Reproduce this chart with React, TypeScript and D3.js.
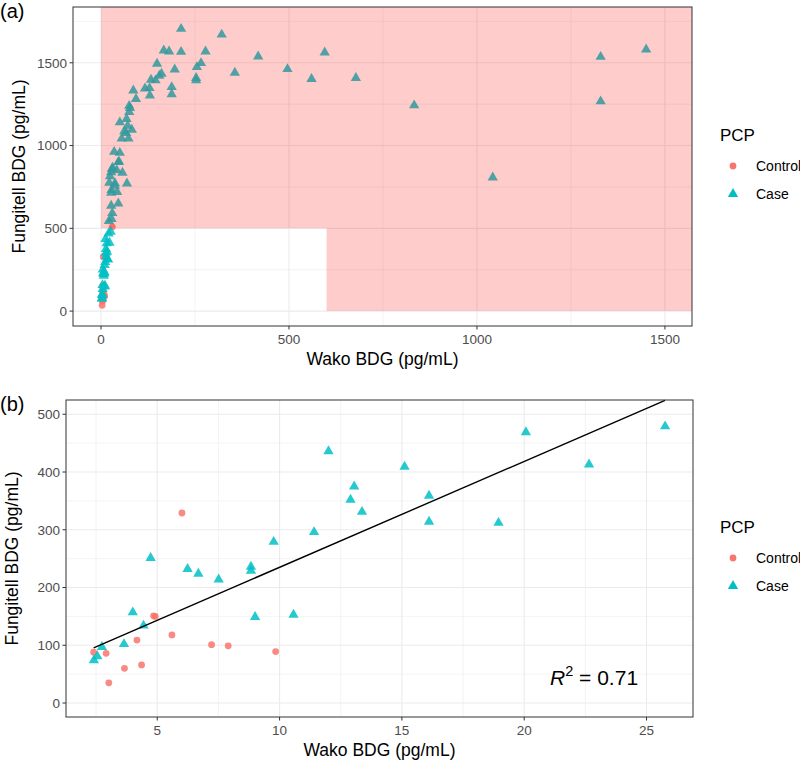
import React from "react";
import * as d3 from "d3";

// panel (b): Wako < ~26, Fungitell < 500
const ctrlWakoB = [2.40, 2.91, 3.02, 3.66, 4.17, 4.36, 4.85, 4.92, 5.60, 6.01, 7.22, 7.90, 9.84];
const ctrlFungB = [88, 86, 35, 60, 109, 66, 151, 150, 118, 329, 101, 99, 89];
const caseWakoB = [2.41, 2.55, 2.74, 3.64, 4.00, 4.44, 4.73, 6.24, 6.68, 7.51, 8.83, 8.83, 9.00, 9.76, 10.57, 11.41, 12.00, 12.90, 13.05, 13.37, 15.11, 16.11, 16.11, 18.95, 20.07, 22.65, 25.76];
const caseFungB = [74, 81, 97, 102, 157, 134, 251, 232, 224, 214, 236, 229, 149, 279, 153, 296, 436, 352, 375, 331, 409, 359, 314, 312, 469, 413, 479];

// extra points only visible in panel (a)
const ctrlWakoHi = [30];
const ctrlFungHi = [508];
const caseWakoHi = [21, 28, 30, 27, 46, 27, 43, 28, 37, 22, 37, 69, 24, 57, 27, 42, 29, 31, 46, 48, 35, 50, 55, 73, 62, 82, 67, 71, 50, 68, 75, 77, 75, 93, 86, 117, 129, 130, 133, 145, 155, 161, 149, 188, 188, 196, 167, 181, 213, 213, 253, 253, 255, 266, 278, 321, 356, 418, 496, 560, 595, 678, 833, 1042, 1329, 1329, 1450];
const caseFungHi = [544, 556, 592, 636, 650, 715, 720, 732, 757, 775, 772, 771, 815, 836, 838, 851, 858, 866, 900, 902, 962, 956, 1042, 1042, 1086, 1096, 1076, 1120, 1140, 1160, 1202, 1227, 1240, 1281, 1333, 1345, 1347, 1302, 1398, 1394, 1422, 1434, 1494, 1353, 1310, 1460, 1574, 1568, 1566, 1705, 1394, 1408, 1474, 1498, 1568, 1670, 1440, 1538, 1462, 1402, 1562, 1408, 1243, 807, 1536, 1267, 1580];

const groups = ["Control", "Case"];
const fitIntercept = 51.6;
const fitSlope = 18.34;
const r2Label = "0.71";

const ticksA = [0, 500, 1000, 1500];
const ticksBx = [5, 10, 15, 20, 25];
const ticksBy = [0, 100, 200, 300, 400, 500];

const FONT = "'Liberation Sans', Arial, sans-serif";
const colors = { Control: "#F8766D", Case: "#00BFC4" };

const zip = (xs, ys, g) => xs.map((x, i) => ({ x, y: ys[i], g }));

const drawPanel = (svg, opts) => {
  const { x, y, left, top, right, bottom, xMajor, xMinor, yMajor, yMinor, tag, legendY } = opts;
  const g = svg.append("g");
  g.append("rect").attr("x", left).attr("y", top).attr("width", right - left).attr("height", bottom - top).attr("fill", "white");
  xMinor.forEach(v => g.append("line").attr("x1", x(v)).attr("x2", x(v)).attr("y1", top).attr("y2", bottom).attr("stroke", "#EBEBEB").attr("stroke-width", 0.6));
  yMinor.forEach(v => g.append("line").attr("y1", y(v)).attr("y2", y(v)).attr("x1", left).attr("x2", right).attr("stroke", "#EBEBEB").attr("stroke-width", 0.6));
  xMajor.forEach(v => g.append("line").attr("x1", x(v)).attr("x2", x(v)).attr("y1", top).attr("y2", bottom).attr("stroke", "#EBEBEB").attr("stroke-width", 1.1));
  yMajor.forEach(v => g.append("line").attr("y1", y(v)).attr("y2", y(v)).attr("x1", left).attr("x2", right).attr("stroke", "#EBEBEB").attr("stroke-width", 1.1));

  // ticks + labels
  xMajor.forEach(v => {
    g.append("line").attr("x1", x(v)).attr("x2", x(v)).attr("y1", bottom).attr("y2", bottom + 3.5).attr("stroke", "#333");
    g.append("text").attr("x", x(v)).attr("y", bottom + 18).attr("text-anchor", "middle")
      .attr("font-size", 13.5).attr("fill", "#4D4D4D").attr("font-family", FONT).text(v);
  });
  yMajor.forEach(v => {
    g.append("line").attr("x1", left - 3.5).attr("x2", left).attr("y1", y(v)).attr("y2", y(v)).attr("stroke", "#333");
    g.append("text").attr("x", left - 6).attr("y", y(v) + 4.8).attr("text-anchor", "end")
      .attr("font-size", 13.5).attr("fill", "#4D4D4D").attr("font-family", FONT).text(v);
  });

  g.append("text").attr("x", (left + right) / 2).attr("y", bottom + 39).attr("text-anchor", "middle")
    .attr("font-size", 17.5).attr("font-family", FONT).text("Wako BDG (pg/mL)");
  g.append("text").attr("transform", `translate(${left - 48},${(top + bottom) / 2}) rotate(-90)`)
    .attr("text-anchor", "middle").attr("font-size", 17.5).attr("font-family", FONT).text("Fungitell BDG (pg/mL)");
  g.append("text").attr("x", 0).attr("y", top + 11).attr("font-size", 20).attr("font-family", FONT).text(tag);

  // legend
  const lg = g.append("g").attr("font-family", FONT);
  lg.append("text").attr("x", 720).attr("y", legendY - 25).attr("font-size", 17).text("PCP");
  lg.append("circle").attr("cx", 733).attr("cy", legendY).attr("r", 3.4).attr("fill", colors.Control);
  lg.append("path").attr("d", d3.symbol(d3.symbolTriangle, 46)()).attr("transform", `translate(733,${legendY + 28})`).attr("fill", colors.Case);
  lg.append("text").attr("x", 756).attr("y", legendY + 5).attr("font-size", 14).text("Control");
  lg.append("text").attr("x", 756).attr("y", legendY + 33).attr("font-size", 14).text("Case");
  return g;
};

const drawPoints = (g, pts, x, y) => {
  g.selectAll(null).data(pts.filter(d => d.g === "Control")).join("circle")
    .attr("cx", d => x(d.x)).attr("cy", d => y(d.y)).attr("r", 3.4)
    .attr("fill", colors.Control).attr("fill-opacity", 0.85);
  g.selectAll(null).data(pts.filter(d => d.g === "Case")).join("path")
    .attr("d", d3.symbol(d3.symbolTriangle, 46)())
    .attr("transform", d => `translate(${x(d.x)},${y(d.y)})`)
    .attr("fill", colors.Case).attr("fill-opacity", 0.85);
};

const App = () => {
  const ref = React.useRef(null);

  React.useEffect(() => {
    const svg = d3.select(ref.current);
    svg.selectAll("*").remove();

    const ptsB = [...zip(ctrlWakoB, ctrlFungB, groups[0]), ...zip(caseWakoB, caseFungB, groups[1])];
    const ptsA = [...ptsB, ...zip(ctrlWakoHi, ctrlFungHi, groups[0]), ...zip(caseWakoHi, caseFungHi, groups[1])];

    // panel (a)
    const a = { left: 73, top: 7, right: 692, bottom: 326 };
    const xa = d3.scaleLinear([-74.5, 1572], [a.left, a.right]);
    const ya = d3.scaleLinear([-90, 1837], [a.bottom, a.top]);
    const ga = drawPanel(svg, { ...a, x: xa, y: ya, xMajor: ticksA, xMinor: [250, 750, 1250], yMajor: ticksA, yMinor: [250, 750, 1250, 1750], tag: "(a)", legendY: 166 });
    drawPoints(ga, ptsA, xa, ya);
    // shaded positive region: Fungitell >= 500 or Wako >= 600
    const region = d3.path();
    region.moveTo(xa(0), a.top);
    region.lineTo(a.right, a.top);
    region.lineTo(a.right, ya(0));
    region.lineTo(xa(600), ya(0));
    region.lineTo(xa(600), ya(500));
    region.lineTo(xa(0), ya(500));
    region.closePath();
    ga.append("path").attr("d", region.toString()).attr("fill", "#FF0000").attr("fill-opacity", 0.2);
    ga.append("rect").attr("x", a.left).attr("y", a.top).attr("width", a.right - a.left).attr("height", a.bottom - a.top)
      .attr("fill", "none").attr("stroke", "#333").attr("stroke-width", 1);

    // panel (b)
    const b = { left: 66, top: 400, right: 693, bottom: 717 };
    const xb = d3.scaleLinear([1.27, 26.9], [b.left, b.right]);
    const yb = d3.scaleLinear([-24.2, 524.7], [b.bottom, b.top]);
    const gb = drawPanel(svg, { ...b, x: xb, y: yb, xMajor: ticksBx, xMinor: [2.5, 7.5, 12.5, 17.5, 22.5], yMajor: ticksBy, yMinor: [50, 150, 250, 350, 450], tag: "(b)", legendY: 558 });
    drawPoints(gb, ptsB, xb, yb);
    const [x0, x1] = d3.extent(ptsB, d => d.x);
    const line = d3.line().x(d => xb(d[0])).y(d => yb(d[1]));
    gb.append("path").attr("d", line([[x0, fitIntercept + fitSlope * x0], [x1, fitIntercept + fitSlope * x1]]))
      .attr("fill", "none").attr("stroke", "black").attr("stroke-width", 1.4);
    const r2 = gb.append("text").attr("x", 550).attr("y", 685).attr("font-size", 21).attr("font-family", FONT);
    r2.append("tspan").attr("font-style", "italic").text("R");
    r2.append("tspan").attr("font-size", 14.5).attr("dy", -9).text("2");
    r2.append("tspan").attr("dy", 9).text(" = " + r2Label);
    gb.append("rect").attr("x", b.left).attr("y", b.top).attr("width", b.right - b.left).attr("height", b.bottom - b.top)
      .attr("fill", "none").attr("stroke", "#333").attr("stroke-width", 1);
  }, []);

  return <svg ref={ref} width={800} height={762} style={{ position: "absolute", left: 0, top: 0, background: "white" }} />;
};

export default App;
